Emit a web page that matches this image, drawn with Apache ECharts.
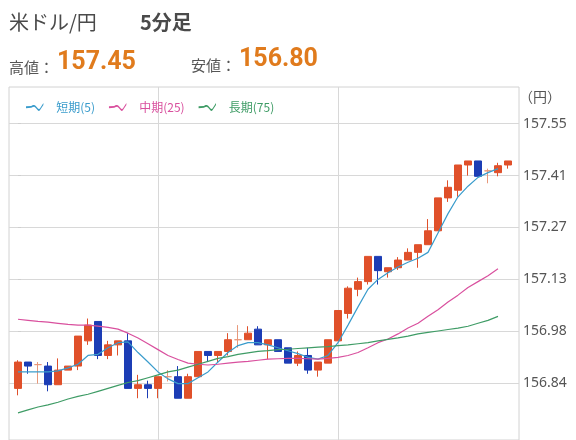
<!DOCTYPE html>
<html><head><meta charset="utf-8">
<script src="https://cdn.jsdelivr.net/npm/echarts@6/dist/echarts.min.js"></script>
<style>html,body{margin:0;padding:0;background:#fff}#c{width:576px;height:440px}</style>
</head><body><div id="c"></div>
<script>
const titleText = '米ドル/円';
const periodText = '5分足';
const highLabel = '高値：';
const highValue = '157.45';
const lowLabel = '安値：';
const lowValue = '156.80';
const unitText = '（円）';
const seriesNames = ['短期(5)', '中期(25)', '長期(75)'];

const opens = [156.826,156.898,156.891,156.887,156.836,156.876,156.887,156.956,157.009,156.916,
156.945,156.956,156.826,156.836,156.826,156.858,156.858,156.799,156.858,156.927,
156.916,156.927,156.959,156.959,156.988,156.945,156.959,156.937,156.895,156.916,
156.876,156.895,156.956,157.031,157.097,157.118,157.187,157.145,157.156,157.177,
157.198,157.219,157.257,157.347,157.368,157.437,157.448,157.421,157.416,157.437];
const closes = [156.898,156.887,156.891,156.836,156.876,156.887,156.969,156.999,156.916,156.945,
156.956,156.826,156.836,156.826,156.858,156.858,156.799,156.858,156.927,156.916,
156.927,156.959,156.959,156.977,156.945,156.959,156.927,156.895,156.916,156.876,
156.898,156.959,157.039,157.100,157.118,157.187,157.148,157.156,157.177,157.198,
157.219,157.257,157.347,157.376,157.437,157.448,157.406,157.421,157.435,157.448];
const lows = [156.807,156.866,156.839,156.818,156.836,156.876,156.876,156.945,156.906,156.906,
156.916,156.826,156.799,156.799,156.799,156.845,156.799,156.799,156.858,156.898,
156.898,156.916,156.937,156.959,156.945,156.906,156.927,156.895,156.887,156.866,
156.858,156.895,156.956,157.017,157.078,157.110,157.110,157.129,157.150,157.177,
157.156,157.219,157.257,157.336,157.350,157.408,157.406,157.387,157.406,157.427];
const highs = [156.903,156.898,156.898,156.898,156.908,156.887,156.969,157.017,157.009,156.956,
156.956,156.977,156.863,156.847,156.858,156.876,156.887,156.866,156.927,156.927,
156.927,156.977,156.999,156.996,156.996,156.959,156.959,156.937,156.927,156.937,
156.898,156.959,157.039,157.105,157.129,157.187,157.187,157.156,157.185,157.209,
157.219,157.289,157.347,157.395,157.437,157.448,157.448,157.427,157.443,157.448];

const ma5 = [156.871,156.871,156.871,156.871,156.874,156.882,156.892,156.916,156.919,156.937,
156.951,156.953,156.924,156.898,156.871,156.852,156.839,156.839,156.855,156.871,
156.898,156.924,156.943,156.951,156.951,156.945,156.937,156.929,156.921,156.911,
156.906,156.916,156.951,156.999,157.049,157.097,157.124,157.142,157.158,157.171,
157.182,157.198,157.251,157.304,157.350,157.379,157.403,157.416,157.427,null];
const ma25 = [157.015,157.012,157.009,157.007,157.004,157.001,156.999,156.999,156.996,156.993,
156.988,156.977,156.964,156.948,156.932,156.916,156.905,156.895,156.892,156.890,
156.892,156.895,156.898,156.900,156.903,156.906,156.907,156.908,156.908,156.907,
156.906,156.908,156.911,156.916,156.924,156.937,156.951,156.961,156.975,156.991,
157.004,157.023,157.041,157.062,157.081,157.102,157.118,157.134,157.153,null];
const ma75 = [156.759,156.767,156.775,156.781,156.788,156.797,156.804,156.810,156.818,156.826,
156.834,156.842,156.847,156.855,156.863,156.871,156.876,156.884,156.892,156.900,
156.908,156.913,156.919,156.923,156.927,156.929,156.932,156.933,156.935,156.937,
156.939,156.940,156.943,156.945,156.948,156.951,156.956,156.960,156.964,156.969,
156.975,156.979,156.983,156.987,156.991,156.996,157.004,157.012,157.023,null];

const yTickValues = [156.840, 156.982, 157.124, 157.266, 157.408, 157.550];
const yTickLabels = ['156.84', '156.98', '157.13', '157.27', '157.41', '157.55'];
const xGridValues = [14, 32];

const upColor = '#e0502a', downColor = '#1c3db5', dojiColor = '#e8987a';
const lineColors = ['#3a9ccc', '#d9509e', '#3f9c66'];

const candleData = opens.map((o, i) => [i, o, closes[i], lows[i], highs[i]]);
const toLine = arr => arr.map((v, i) => [i, v]).filter(d => d[1] != null);

const wave = 'path://M0,3.4L6,3.1L8,2.1L9.5,1.9L11,2.9L14,6.4L15,6.7L16,5.9L20,-0.3L20,1.9L16,8.1L15,8.9L14,8.6L11,5.1L9.5,4.1L8,4.3L6,5.3L0,5.6Z';

const chart = echarts.init(document.getElementById('c'), null, {renderer: 'canvas'});
chart.setOption({
  animation: false,
  backgroundColor: '#ffffff',
  graphic: [
    {type: 'text', x: 9, y: 22, style: {text: titleText, font: '20px "Noto Sans CJK JP"', fill: '#4a4a4a', verticalAlign: 'middle'}},
    {type: 'text', x: 140, y: 22, style: {text: periodText, font: 'bold 20px "Noto Sans CJK JP"', fill: '#4a4a4a', verticalAlign: 'middle'}},
    {type: 'text', x: 9, y: 67, style: {text: highLabel, font: '15px "Noto Sans CJK JP"', fill: '#555', verticalAlign: 'middle'}},
    {type: 'text', x: 57, y: 63, style: {text: highValue, font: 'bold 25px Roboto', fill: '#e07b1d', verticalAlign: 'middle'}},
    {type: 'text', x: 191, y: 65, style: {text: lowLabel, font: '15px "Noto Sans CJK JP"', fill: '#555', verticalAlign: 'middle'}},
    {type: 'text', x: 239, y: 60, style: {text: lowValue, font: 'bold 25px Roboto', fill: '#e07b1d', verticalAlign: 'middle'}},
    {type: 'text', x: 519, y: 97, style: {text: unitText, font: '14px "Noto Sans CJK JP"', fill: '#555', verticalAlign: 'middle'}}
  ],
  legend: {
    left: 21, top: 96, itemWidth: 21, itemHeight: 8, itemGap: 14,
    icon: wave,
    textStyle: {fontSize: 12, fontFamily: '"Noto Sans CJK JP"', padding: [0, 0, 0, 6]},
    data: seriesNames.map((n, i) => ({name: n, textStyle: {color: lineColors[i]}}))
  },
  grid: {left: 9, right: 57, top: 87, bottom: -10, show: true, borderColor: '#d2d2d2', borderWidth: 1},
  xAxis: {
    type: 'value', min: -0.9, max: 50.1,
    axisLine: {show: false},
    axisTick: {show: false, customValues: xGridValues},
    axisLabel: {show: false},
    splitLine: {show: true, lineStyle: {color: '#d8d8d8', width: 1}}
  },
  yAxis: {
    type: 'value', position: 'right', min: 156.6848, max: 157.6503,
    axisLine: {show: false},
    axisTick: {show: true, customValues: yTickValues, length: 3, lineStyle: {color: '#cfcfcf'}},
    axisLabel: {
      customValues: yTickValues, margin: 4, color: '#555', fontSize: 14, fontFamily: '"Noto Sans"',
      formatter: v => {
        let best = 0;
        yTickValues.forEach((t, i) => { if (Math.abs(t - v) < Math.abs(yTickValues[best] - v)) best = i; });
        return yTickLabels[best];
      }
    },
    splitLine: {show: true, lineStyle: {color: '#d8d8d8', width: 1}}
  },
  series: [
    {
      type: 'candlestick', data: candleData, encode: {x: 0, y: [1, 2, 3, 4]}, barWidth: 7,
      itemStyle: {color: upColor, color0: downColor, borderColor: upColor, borderColor0: downColor, borderColorDoji: dojiColor, borderWidth: 1}
    },
    {type: 'line', name: seriesNames[0], data: toLine(ma5), showSymbol: false, symbol: 'none', lineStyle: {width: 1.2, color: lineColors[0]}, itemStyle: {color: lineColors[0]}},
    {type: 'line', name: seriesNames[1], data: toLine(ma25), showSymbol: false, symbol: 'none', lineStyle: {width: 1.2, color: lineColors[1]}, itemStyle: {color: lineColors[1]}},
    {type: 'line', name: seriesNames[2], data: toLine(ma75), showSymbol: false, symbol: 'none', lineStyle: {width: 1.2, color: lineColors[2]}, itemStyle: {color: lineColors[2]}}
  ]
});
</script>
</body></html>
